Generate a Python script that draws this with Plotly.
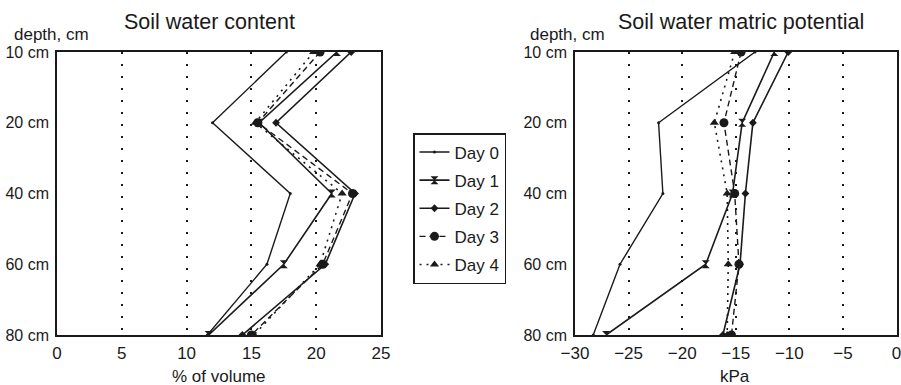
import plotly.graph_objects as go

depths = ["10 cm", "20 cm", "40 cm", "60 cm", "80 cm"]
days = ["Day 0", "Day 1", "Day 2", "Day 3", "Day 4"]

# Soil water content, % of volume
swc_day0 = [17.7, 12.0, 18.0, 16.2, 11.6]
swc_day1 = [21.6, 15.6, 21.2, 17.5, 11.7]
swc_day2 = [22.7, 16.9, 23.0, 20.7, 14.3]
swc_day3 = [20.3, 15.5, 22.8, 20.5, 15.0]
swc_day4 = [19.8, 15.3, 22.0, 20.3, 15.2]

# Soil water matric potential, kPa
smp_day0 = [-13.2, -22.2, -21.8, -25.8, -28.3]
smp_day1 = [-11.4, -14.4, -15.3, -17.8, -27.1]
smp_day2 = [-10.1, -13.4, -14.1, -14.6, -16.2]
smp_day3 = [-14.5, -16.1, -15.1, -14.7, -15.4]
smp_day4 = [-15.1, -17.0, -15.8, -15.7, -15.8]

swc = [swc_day0, swc_day1, swc_day2, swc_day3, swc_day4]
smp = [smp_day0, smp_day1, smp_day2, smp_day3, smp_day4]

INK = "#1a1a1a"
FONT = "Liberation Sans, Arial, Helvetica, sans-serif"

styles = [
    dict(symbol="circle", size=3, dash="solid", width=1.4),
    dict(symbol="hourglass", size=8, dash="solid", width=1.6),
    dict(symbol="diamond", size=6, dash="solid", width=1.6),
    dict(symbol="circle", size=9, dash="6px,4px", width=1.4),
    dict(symbol="triangle-up", size=8, dash="2px,5px", width=1.6),
]

fig = go.Figure()
for i, name in enumerate(days):
    st = styles[i]
    fig.add_trace(go.Scatter(
        x=swc[i], y=depths, name=name, mode="lines+markers",
        xaxis="x", yaxis="y", legendgroup=name,
        line=dict(color=INK, width=st["width"], dash=st["dash"]),
        marker=dict(symbol=st["symbol"], size=st["size"], color=INK),
    ))
for i, name in enumerate(days):
    st = styles[i]
    fig.add_trace(go.Scatter(
        x=smp[i], y=depths, name=name, mode="lines+markers",
        xaxis="x2", yaxis="y2", legendgroup=name, showlegend=False,
        line=dict(color=INK, width=st["width"], dash=st["dash"]),
        marker=dict(symbol=st["symbol"], size=st["size"], color=INK),
    ))

xcommon = dict(
    showline=True, mirror=True, linecolor=INK, linewidth=1.6,
    showgrid=True, gridcolor=INK, gridwidth=2, griddash="2px,10px",
    zeroline=False, ticks="", ticklabelstandoff=2, automargin=False,
    ticklabeloverflow="allow",
    tickfont=dict(size=17, color=INK, family=FONT), dtick=5,
)
ycommon = dict(
    type="category", categoryorder="array", categoryarray=depths,
    range=[4, 0], showline=True, mirror=True, linecolor=INK, linewidth=1.6,
    showgrid=False, zeroline=False, ticks="", ticklabelstandoff=3,
    automargin=False, ticklabeloverflow="allow",
    tickfont=dict(size=16, color=INK, family=FONT),
)

H = 385.0
W = 901.0
ydom = [1 - 335 / H, 1 - 52 / H]

fig.update_layout(
    width=901, height=385,
    margin=dict(l=0, r=0, t=0, b=0, autoexpand=False),
    paper_bgcolor="white", plot_bgcolor="white",
    font=dict(family=FONT, color=INK),
    xaxis=dict(domain=[57 / W, 381 / W], range=[0, 25], anchor="y", **xcommon),
    yaxis=dict(domain=ydom, anchor="x", **ycommon),
    xaxis2=dict(domain=[575 / W, 896.5 / W], range=[-30, 0], anchor="y2", **xcommon),
    yaxis2=dict(domain=ydom, anchor="x2", **ycommon),
    legend=dict(
        x=413 / W, y=1 - 133 / H, xanchor="left", yanchor="top",
        bordercolor=INK, borderwidth=1.5, bgcolor="white",
        font=dict(size=17, color=INK, family=FONT),
        tracegroupgap=3,
    ),
    showlegend=True,
)

annots = [
    ("Soil water content", 209, 22, 21.5),
    ("Soil water matric potential", 741, 22, 21.5),
    ("depth, cm", 51, 34, 17),
    ("depth, cm", 567, 34, 17),
    ("% of volume", 219, 376, 17),
    ("kPa", 735, 376, 17),
]
for text, px, py, sz in annots:
    fig.add_annotation(
        text=text, x=px / W, y=1 - py / H, xref="paper", yref="paper",
        xanchor="center", yanchor="middle", showarrow=False,
        font=dict(size=sz, color=INK, family=FONT),
    )

fig.write_html(
    "out.html",
    config={"displayModeBar": False},
    post_script="document.body.style.margin='0';document.body.style.overflow='hidden';",
)
